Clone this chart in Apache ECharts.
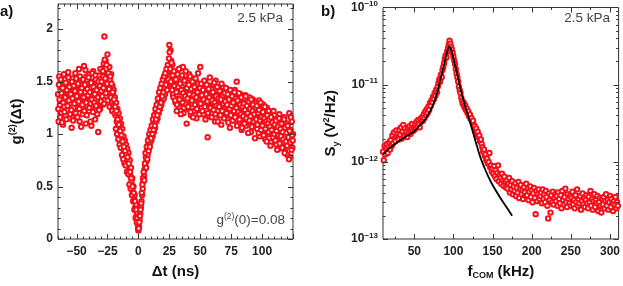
<!DOCTYPE html>
<html>
<head>
<meta charset="utf-8">
<script src="https://cdn.jsdelivr.net/npm/echarts@6/dist/echarts.min.js"></script>
<style>html,body{margin:0;padding:0;background:#fff}#c{width:623px;height:286px}</style>
</head>
<body>
<div id="c"></div>
<script>
// ---------- Panel a: g2(Δt) histogram, two interleaved bin sets of 0.5 ns ----------
const tStartA = -65, tStartB = -64.75, tStep = 0.5;
const g2A = [
1.38,1.12,1.55,1.28,1.45,1.20,1.33,1.50,1.09,1.41,1.26,1.52,1.18,1.36,1.47,1.23,1.31,1.54,1.15,1.40,
1.29,1.48,1.06,1.37,1.53,1.21,1.44,1.30,1.58,1.17,1.35,1.46,1.25,1.39,1.62,1.12,1.42,1.28,1.51,1.34,
1.19,1.45,1.65,1.31,1.40,1.10,1.55,1.27,1.48,1.36,1.22,1.57,1.33,1.44,1.08,1.50,1.38,1.60,1.26,1.43,
1.14,1.52,1.37,1.29,1.47,1.02,1.56,1.35,1.24,1.49,
1.41,1.62,1.28,1.55,1.67,1.93,1.45,1.70,1.36,1.58,1.76,1.49,1.33,1.64,1.52,1.40,1.57,1.30,1.46,1.38,
1.42,1.28,1.35,1.18,1.30,1.12,1.24,1.08,1.20,1.02,
1.15,0.96,1.10,0.90,1.05,0.86,0.98,0.82,0.94,0.78,
0.90,0.76,0.86,0.72,0.82,0.66,0.75,0.60,0.68,0.55,
0.58,0.45,0.50,0.38,0.42,0.30,0.33,0.22,0.25,0.14,
0.08,0.12,0.18,0.24,0.30,0.36,0.42,0.48,0.55,0.60,
0.66,0.70,0.78,0.74,0.85,0.80,0.90,0.86,0.96,0.92,
1.00,0.94,1.05,0.98,1.10,1.02,1.15,1.06,1.20,1.12,
1.25,1.15,1.30,1.20,1.34,1.24,1.38,1.28,1.42,1.32,
1.45,1.34,1.50,1.38,1.53,1.42,1.56,1.46,1.60,1.50,
1.85,1.55,1.80,1.70,1.48,1.66,1.38,1.58,1.44,1.52,
1.30,1.47,1.22,1.42,1.55,1.34,1.26,1.50,1.40,1.63,
1.31,1.45,1.64,1.20,1.38,1.52,1.27,1.43,1.10,1.36,
1.49,1.24,1.57,1.33,1.41,1.18,1.46,1.29,1.53,1.35,
1.22,1.44,1.30,1.50,1.15,1.39,1.27,1.48,1.33,1.21,
1.64,1.36,1.25,1.45,1.31,1.19,1.42,1.28,1.50,1.34,
1.23,1.40,0.97,1.30,1.46,1.17,1.37,1.26,1.43,1.20,
1.33,1.47,1.24,1.38,1.12,1.51,1.29,1.35,1.22,1.44,
1.18,1.32,1.41,1.26,1.09,1.37,1.23,1.45,1.30,1.16,
1.36,1.21,1.43,1.28,1.14,1.34,1.25,1.39,1.06,1.31,
1.20,1.40,1.27,1.13,1.35,1.24,1.42,1.17,1.30,1.50,
1.22,1.36,1.10,1.29,1.19,1.38,1.26,1.04,1.33,1.21,
1.15,1.34,1.24,1.37,1.08,1.27,1.18,1.31,1.12,1.25,
1.35,1.20,1.02,1.29,1.16,1.33,1.22,1.10,1.27,1.14,
1.30,1.19,1.05,1.26,1.13,1.32,0.98,1.21,1.10,1.24,
1.16,1.03,1.28,1.12,1.20,0.95,1.18,1.07,1.25,1.11,
1.00,1.22,1.09,1.17,0.92,1.14,1.05,1.21,1.08,0.97,
1.18,1.04,1.12,0.90,1.15,1.02,1.10,0.86,1.19,1.06,
0.96,1.13,1.01,0.88,1.09,0.98,1.16,0.84,1.05,0.93,
1.10,0.80,1.02,0.91,1.20,0.78,1.04,0.95,1.12,0.87,
1.00
];
const g2B = [
1.24,1.47,1.33,1.16,1.52,1.39,1.11,1.44,1.30,1.57,1.21,1.35,1.49,1.14,1.42,1.27,1.59,1.32,1.45,1.19,
1.38,1.23,1.50,1.34,1.13,1.46,1.29,1.41,1.20,1.53,1.36,1.16,1.48,1.31,1.24,1.55,1.40,1.07,1.44,1.28,
1.52,1.35,1.22,1.47,1.61,1.30,1.18,1.43,1.37,1.54,1.25,1.40,1.12,1.49,1.33,1.58,1.21,1.45,1.30,1.38,
1.56,1.27,1.42,1.19,1.35,1.50,1.23,1.46,1.62,1.31,
1.50,1.36,1.60,1.44,1.29,1.71,1.53,1.39,1.66,1.48,1.32,1.58,1.43,1.26,1.55,1.35,1.48,1.22,1.40,1.27,
1.33,1.20,1.26,1.05,1.22,1.00,1.14,0.95,1.09,0.90,
1.03,0.87,0.99,0.80,0.93,0.76,0.88,0.72,0.84,0.70,
0.80,0.64,0.78,0.62,0.72,0.52,0.64,0.48,0.58,0.42,
0.50,0.36,0.44,0.28,0.36,0.20,0.28,0.16,0.20,0.10,
0.10,0.16,0.22,0.28,0.34,0.44,0.52,0.58,0.64,0.56,
0.72,0.82,0.68,0.88,0.76,0.94,0.84,1.00,0.88,1.04,
0.96,1.08,1.00,1.14,1.04,1.18,1.08,1.24,1.14,1.28,
1.18,1.34,1.22,1.40,1.26,1.44,1.30,1.48,1.36,1.52,
1.40,1.55,1.44,1.58,1.47,1.62,1.42,1.66,1.52,1.72,
1.78,1.62,1.50,1.68,1.42,1.56,1.35,1.60,1.46,1.32,
1.52,1.40,1.28,1.57,1.45,1.62,1.33,1.48,1.19,1.42,
1.56,1.30,1.39,1.25,1.51,1.36,1.60,1.28,1.44,1.34,
1.26,1.47,1.38,1.55,1.21,1.43,1.32,1.50,1.16,1.37,
1.45,1.28,1.53,1.35,1.24,1.40,1.58,1.30,1.19,1.44,
1.29,1.48,1.37,1.22,1.42,1.33,1.51,1.26,1.14,1.38,
1.47,1.31,1.20,1.43,1.35,1.54,1.25,1.39,1.16,1.32,
1.40,1.23,1.49,1.30,1.19,1.36,1.27,1.45,1.12,1.34,
1.26,1.41,1.18,1.33,1.48,1.22,1.37,1.29,1.15,1.39,
1.31,1.44,1.20,1.28,1.38,1.11,1.33,1.24,1.42,1.18,
1.27,1.36,1.13,1.30,1.22,1.40,1.16,1.34,1.25,1.08,
1.32,1.21,1.39,1.14,1.28,1.19,1.35,1.06,1.26,1.17,
1.29,1.10,1.23,1.36,1.15,1.27,1.20,1.01,1.31,1.13,
1.24,1.17,1.33,1.07,1.22,1.28,1.12,1.19,0.96,1.25,
1.14,1.27,1.09,1.20,1.01,1.23,1.13,1.30,1.04,1.16,
1.08,1.21,0.99,1.15,1.26,1.05,1.12,0.93,1.18,1.10,
1.02,1.14,1.07,0.89,1.16,1.04,1.11,0.97,1.22,1.00,
1.09,0.94,1.13,1.03,0.85,1.07,0.99,1.15,0.91,1.05,
0.98,1.10,0.87,1.02,0.95,1.14,0.82,1.06,0.93,1.01,
0.89,1.08,0.97,0.76,1.03,0.92,1.16,0.85,0.99,0.94
];
const aXLabels = [-50, -25, 0, 25, 50, 75, 100];
const aYLabels = [0, 0.5, 1, 1.5, 2];

// ---------- Panel b: S_y spectrum, bins of 1 kHz starting at 10 kHz, values in 1e-12 V^2/Hz ----------
const fStart = 10, fStep = 1;
const syPico = [
1.35,1.05,1.6,1.25,1.5,1.7,1.3,1.55,1.8,1.45,
1.9,1.6,2.2,1.75,2.4,2.0,1.85,2.55,2.1,2.3,
1.95,2.6,2.25,2.8,2.0,2.45,3.0,2.2,2.7,2.35,
2.5,2.1,2.75,2.4,2.9,2.3,2.65,3.1,2.5,2.8,
2.6,3.0,2.75,3.3,2.9,3.5,3.1,2.8,3.6,3.3,
3.8,3.4,4.1,3.7,4.5,4.0,4.8,4.3,
5.2,4.7,5.8,5.3,6.3,5.9,7.0,6.5,7.8,7.2,8.6,8.0,
9.5,10.5,11.8,11.0,13.5,12.5,15.5,17.0,
19.0,21.5,24.0,22.5,27.0,29.5,33.0,37.0,34.0,31.0,28.5,26.0,
23.0,20.5,18.5,16.0,14.0,12.5,11.0,9.5,8.5,7.8,6.8,
6.2,5.6,5.9,5.1,5.4,4.7,4.9,4.3,4.5,3.9,4.1,3.6,3.7,3.3,3.4,3.0,
2.9,2.6,2.7,2.3,2.45,2.1,2.2,1.85,1.95,1.7,
1.55,1.35,1.45,1.2,1.25,1.05,1.1,0.95,1.0,1.3,0.85,0.9,0.75,
0.82,0.7,0.88,0.65,0.78,0.6,0.72,0.9,0.56,0.68,0.62,0.52,0.7,0.58,0.49,0.64,0.55,0.47,
0.58,0.45,0.52,0.62,0.4,0.5,0.44,0.56,0.38,0.48,0.42,0.53,0.36,0.46,0.4,0.55,0.34,0.44,0.5,0.38,0.43,0.33,0.47,0.4,0.36,
0.52,0.37,0.45,0.32,0.41,0.48,0.35,0.43,0.3,0.39,0.46,0.34,0.21,0.42,0.31,0.38,0.44,0.33,
0.36,0.4,0.29,0.44,0.33,0.38,0.3,0.42,0.35,0.27,0.185,0.39,0.32,0.22,0.37,0.3,0.41,0.28,0.34,0.38,
0.31,0.36,0.27,0.4,0.33,0.29,0.37,0.25,0.42,0.32,0.28,0.35,0.45,0.3,0.26,0.38,0.33,0.29,0.36,0.27,
0.34,0.41,0.28,0.32,0.25,0.37,0.3,0.44,0.27,0.33,0.29,0.36,0.24,0.31,0.39,0.28,0.34,0.26,0.32,0.37,
0.29,0.25,0.35,0.3,0.42,0.27,0.33,0.24,0.31,0.38,0.26,0.32,0.29,0.36,0.23,0.3,0.34,0.27,0.22,0.33,
0.28,0.35,0.25,0.31,0.38,0.27,0.32,0.24,0.3,0.36,0.26,0.33,0.29,0.23,0.31,0.28,0.35,0.25,0.3,0.27
];
// fitted curve (kHz, V^2/Hz)
const fitF = [10,15,20,30,40,50,60,65,70,75,80,85,90,93,95,97,100,105,110,115,120,125,130,135,140,145,150,160,170,175];
const fitS = [1.25e-12,1.4e-12,1.55e-12,1.85e-12,2.15e-12,2.5e-12,3.2e-12,3.7e-12,4.5e-12,5.8e-12,8.5e-12,1.35e-11,2.2e-11,2.9e-11,3.1e-11,2.9e-11,2.2e-11,1.35e-11,8e-12,5.3e-12,3.6e-12,2.4e-12,1.6e-12,1.1e-12,8.2e-13,6.3e-13,5.0e-13,3.4e-13,2.4e-13,2.0e-13];
const bXLabels = [50, 100, 150, 200, 250, 300];

// ---------- ranges ----------
const aX = [-65, 125], aY = [0, 2.24];
const bX = [10, 311], bY = [1e-13, 1e-10];

const RED = '#f50f1a';
const FRAME = '#333';
const FONT = 'Liberation Sans, Arial, sans-serif';

const gDataA = g2A.map((v, i) => [tStartA + i * tStep, v]);
const gDataB = g2B.map((v, i) => [tStartB + i * tStep, v]);
const sData = syPico.map((v, i) => [fStart + i * fStep, v * 1e-12]);
const fitData = fitF.map((f, i) => [f, fitS[i]]);

// tick lists (kind: 0 x-major, 1 x-minor, 2 y-major, 3 y-minor)
const aTicks = [];
for (let t = -65; t <= 125; t += 5) aTicks.push([t, aY[0], t % 25 === 0 ? 0 : 1]);
for (let k = 0; k <= 22; k++) { const v = k / 10; aTicks.push([aX[0], v, k % 5 === 0 ? 2 : 3]); }
const bTicks = [];
for (let f = 25; f <= 300; f += 25) bTicks.push([f, bY[0], f % 50 === 0 ? 0 : 1]);
for (let e = -13; e <= -11; e++) for (let m = 1; m <= 9; m++) bTicks.push([bX[0], m * Math.pow(10, e), m === 1 ? 2 : 3]);

function tickRenderer(xr, yr) {
  return function (params, api) {
    const k = api.value(2);
    const major = (k === 0 || k === 2);
    const len = major ? 5 : 2.5;
    const st = { stroke: FRAME, lineWidth: 1 };
    if (k < 2) {
      const v = api.value(0);
      const b = api.coord([v, yr[0]]), t = api.coord([v, yr[1]]);
      const x = Math.round(b[0]) + 0.5;
      return { type: 'group', children: [
        { type: 'line', shape: { x1: x, y1: b[1], x2: x, y2: b[1] - len }, style: st },
        { type: 'line', shape: { x1: x, y1: t[1], x2: x, y2: t[1] + len }, style: st }
      ]};
    } else {
      const v = api.value(1);
      const l = api.coord([xr[0], v]), r = api.coord([xr[1], v]);
      const y = Math.round(l[1]) + 0.5;
      return { type: 'group', children: [
        { type: 'line', shape: { x1: l[0], y1: y, x2: l[0] + len, y2: y }, style: st },
        { type: 'line', shape: { x1: r[0], y1: y, x2: r[0] - len, y2: y }, style: st }
      ]};
    }
  };
}

const labelStyle = { fontFamily: FONT, fontWeight: 'bold', fontSize: 12, color: '#222' };
const nameStyle = { fontFamily: FONT, fontWeight: 'bold', fontSize: 15, color: '#111' };
const markStyle = { color: '#fff', borderColor: RED, borderWidth: 2, opacity: 1 };
const MS = 4.4;

const chart = echarts.init(document.getElementById('c'), null, { renderer: 'canvas' });
chart.setOption({
  animation: false,
  backgroundColor: '#fff',
  grid: [
    { left: 58, right: 330, top: 4, bottom: 47, show: true, borderColor: FRAME, borderWidth: 1, backgroundColor: 'transparent' },
    { left: 383, right: 2, top: 4, bottom: 47, show: true, borderColor: FRAME, borderWidth: 1, backgroundColor: 'transparent' }
  ],
  xAxis: [
    { gridIndex: 0, type: 'value', min: aX[0], max: aX[1],
      axisLine: { show: false }, axisTick: { show: false }, splitLine: { show: false },
      axisLabel: Object.assign({ customValues: aXLabels, margin: 7, formatter: v => String(v).replace('-', '−') }, labelStyle),
      name: 'Δt (ns)', nameLocation: 'middle', nameGap: 25, nameTextStyle: nameStyle },
    { gridIndex: 1, type: 'value', min: bX[0], max: bX[1],
      axisLine: { show: false }, axisTick: { show: false }, splitLine: { show: false },
      axisLabel: Object.assign({ customValues: bXLabels, margin: 7 }, labelStyle),
      name: 'f{sub|COM} (kHz)', nameLocation: 'middle', nameGap: 25,
      nameTextStyle: Object.assign({ rich: { sub: { fontFamily: FONT, fontWeight: 'bold', fontSize: 9, color: '#111', padding: [7, 0, 0, 0] } } }, nameStyle) }
  ],
  yAxis: [
    { gridIndex: 0, type: 'value', min: aY[0], max: aY[1],
      axisLine: { show: false }, axisTick: { show: false }, splitLine: { show: false },
      axisLabel: Object.assign({ customValues: aYLabels, margin: 5 }, labelStyle),
      name: 'g{sup|(2)}(Δt)', nameLocation: 'middle', nameGap: 33, nameRotate: 90,
      nameTextStyle: Object.assign({ rich: { sup: { fontFamily: FONT, fontWeight: 'bold', fontSize: 9, color: '#111', padding: [0, 0, 8, 0] } } }, nameStyle) },
    { gridIndex: 1, type: 'log', logBase: 10, min: bY[0], max: bY[1],
      axisLine: { show: false }, axisTick: { show: false }, splitLine: { show: false }, minorTick: { show: false },
      axisLabel: Object.assign({ margin: 5,
        formatter: v => '{b|10}{s|−' + Math.abs(Math.round(Math.log10(v))) + '}',
        rich: { b: { fontFamily: FONT, fontWeight: 'bold', fontSize: 12, color: '#222' },
                s: { fontFamily: FONT, fontSize: 8, color: '#222', padding: [0, 0, 7, 0] } } }, labelStyle),
      name: 'S{sub|y} (V{sup|2}/Hz)', nameLocation: 'middle', nameGap: 42, nameRotate: 90,
      nameTextStyle: Object.assign({ rich: {
        sub: { fontFamily: FONT, fontWeight: 'bold', fontSize: 9, color: '#111', padding: [11, 0, 0, 0] },
        sup: { fontFamily: FONT, fontWeight: 'bold', fontSize: 9, color: '#111', padding: [0, 0, 8, 0] } } }, nameStyle) }
  ],
  series: [
    { type: 'scatter', xAxisIndex: 0, yAxisIndex: 0, data: gDataA, symbol: 'circle', symbolSize: MS, itemStyle: markStyle, z: 2 },
    { type: 'scatter', xAxisIndex: 0, yAxisIndex: 0, data: gDataB, symbol: 'circle', symbolSize: MS, itemStyle: markStyle, z: 2 },
    { type: 'scatter', xAxisIndex: 1, yAxisIndex: 1, data: sData, symbol: 'circle', symbolSize: MS, itemStyle: markStyle, z: 2 },
    { type: 'line', xAxisIndex: 1, yAxisIndex: 1, data: fitData, smooth: 0.4, showSymbol: false, symbol: 'none',
      lineStyle: { color: '#000', width: 1.8 }, z: 3 },
    { type: 'custom', xAxisIndex: 0, yAxisIndex: 0, data: aTicks, renderItem: tickRenderer(aX, aY), clip: false, silent: true, z: 5 },
    { type: 'custom', xAxisIndex: 1, yAxisIndex: 1, data: bTicks, renderItem: tickRenderer(bX, bY), clip: false, silent: true, z: 5 }
  ],
  graphic: [
    { type: 'text', left: 0, top: 4, style: { text: 'a)', font: 'bold 15px ' + FONT, fill: '#111' } },
    { type: 'text', left: 321, top: 4, style: { text: 'b)', font: 'bold 15px ' + FONT, fill: '#111' } },
    { type: 'text', right: 340, top: 11, style: { text: '2.5 kPa', font: '13.5px ' + FONT, fill: '#444' } },
    { type: 'text', right: 13, top: 11, style: { text: '2.5 kPa', font: '13.5px ' + FONT, fill: '#444' } },
    { type: 'text', right: 338, top: 212, style: { text: '{n|g}{s|(2)}{n|(0)=0.08}', rich: {
        n: { fontFamily: FONT, fontSize: 13.5, fill: '#444' },
        s: { fontFamily: FONT, fontSize: 8.5, fill: '#444', padding: [0, 0, 8, 0] } } } }
  ]
});
</script>
</body>
</html>
